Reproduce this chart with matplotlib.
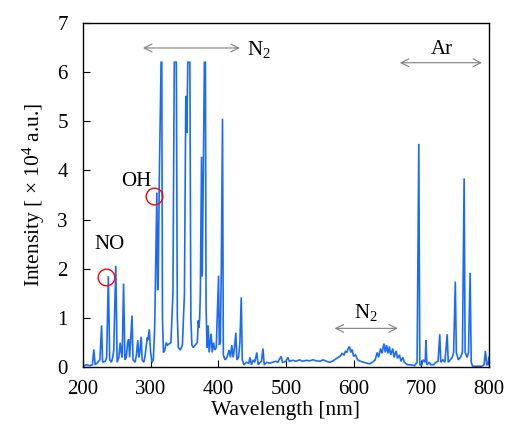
import matplotlib
matplotlib.use("Agg")
import matplotlib.pyplot as plt

plt.rcParams['font.family'] = ['Liberation Serif', 'DejaVu Serif']
plt.rcParams['mathtext.fontset'] = 'custom'
plt.rcParams['mathtext.rm'] = 'Liberation Serif'
plt.rcParams['mathtext.it'] = 'Liberation Serif:italic'

# Spectrum vertices: wavelength [nm], intensity [x10^4 a.u.]
wavelength = [
    200, 205, 210, 214, 216, 218, 222, 225, 227.5, 229, 233, 235, 237.5, 239.5,
    242, 244, 245.5, 248.5, 250.5, 253, 255, 256.5, 258, 260, 262, 264, 266,
    267.5, 269, 272.5, 274, 277, 279, 281, 282.5, 284, 286, 287.5, 290, 292,
    295, 296, 298, 300, 302, 304, 306, 308, 309.2, 310.3, 311, 313, 315.5,
    316.5, 317.5, 319, 321, 323, 325, 330, 333, 335, 338, 339.5, 341, 344,
    347, 350, 352, 352.8, 353.5, 355, 358, 359.5, 361, 363, 366, 369, 370.5,
    371.5, 372.5, 373.5, 375.3, 376.3, 378, 379.5, 381, 382, 383.5, 385,
    386.5, 388, 389.5, 391, 393, 395, 397, 399, 400.5, 401.5, 403, 404.5,
    406.3, 407.5, 410, 413, 416, 418, 420, 422, 424, 426, 427.5, 430, 432,
    434, 435.5, 438, 442, 445, 447, 449, 452, 454, 457, 459, 462, 464, 466,
    468, 472, 476, 480, 485, 488, 490, 493, 495, 500, 503, 505, 510, 515,
    520, 525, 530, 535, 540, 545, 550, 555, 560, 565, 570, 575, 580, 583,
    586, 588, 590, 592, 594, 596, 598, 600, 603, 606, 610, 615, 620, 624,
    628, 632, 635, 637, 640, 642, 645, 647, 649, 651, 653, 655, 658, 660,
    663, 665, 668, 670, 673, 675, 680, 685, 690, 694, 696.5, 698, 701, 703,
    706, 707, 708.5, 712, 714, 718, 722, 725, 727.5, 729, 732, 735, 738.5,
    740, 743, 746, 748, 750.5, 752, 755, 758, 761, 763.5, 765, 768, 770,
    772.4, 774, 776, 780, 785, 790, 793, 795, 797, 799, 800,
]
intensity = [
    0.02, 0.05, 0.03, 0.05, 0.36, 0.05, 0.10, 0.15, 0.85, 0.10, 0.12, 0.20, 1.85, 0.15,
    0.10, 0.20, 0.35, 2.06, 0.10, 0.20, 0.50, 0.30, 0.20, 1.70, 0.15, 0.20, 0.50,
    0.57, 0.20, 1.05, 0.15, 0.10, 0.25, 0.55, 0.20, 0.30, 0.62, 0.15, 0.10, 0.25,
    0.60, 0.55, 0.77, 0.30, 0.10, 0.15, 0.80, 2.50, 3.55, 1.58, 1.58, 4.00, 6.20,
    6.20, 1.00, 0.30, 0.35, 0.50, 0.45, 0.50, 1.50, 6.20, 6.20, 1.00, 0.40, 0.35,
    0.45, 1.50, 5.50, 5.50, 4.76, 6.20, 6.20, 1.00, 0.45, 0.40, 0.45, 0.50, 0.95,
    0.80, 1.00, 1.50, 4.28, 1.84, 4.00, 6.20, 6.20, 1.20, 0.40, 0.85,
    0.30, 0.50, 0.68, 0.30, 0.50, 0.35, 0.40, 1.20, 1.86, 0.45, 0.50, 2.00,
    5.05, 0.25, 0.15, 0.20, 0.35, 0.20, 0.45, 0.20, 0.40, 0.70, 0.15, 0.20, 0.50,
    1.42, 0.15, 0.05, 0.10, 0.08, 0.20, 0.05, 0.15, 0.10, 0.30, 0.05, 0.10, 0.12, 0.38,
    0.05, 0.10, 0.08, 0.10, 0.12, 0.10, 0.15, 0.22, 0.10, 0.12, 0.20, 0.12, 0.14, 0.12,
    0.15, 0.12, 0.14, 0.13, 0.15, 0.13, 0.12, 0.15, 0.12, 0.10, 0.13, 0.18, 0.22, 0.28,
    0.25, 0.32, 0.30, 0.38, 0.42, 0.30, 0.36, 0.22, 0.25, 0.15, 0.12, 0.10, 0.08, 0.07,
    0.10, 0.15, 0.30, 0.20, 0.38, 0.28, 0.48, 0.30, 0.45, 0.28, 0.42, 0.25, 0.38, 0.20,
    0.33, 0.18, 0.25, 0.12, 0.20, 0.10, 0.05, 0.05, 0.03, 0.10, 4.54, 0.05, 0.05, 0.15,
    0.10, 0.55, 0.05, 0.10, 0.05, 0.05, 0.10, 0.12, 0.67, 0.10, 0.15, 0.10, 0.67,
    0.10, 0.15, 0.20, 0.30, 1.74, 0.30, 0.15, 0.20, 0.30, 3.84, 0.30, 0.20, 0.30,
    1.92, 0.10, 0.02, 0.02, 0.02, 0.02, 0.05, 0.33, 0.05, 0.05, 0.20,
]

x_ticks = [200, 300, 400, 500, 600, 700, 800]
y_ticks = [0, 1, 2, 3, 4, 5, 6, 7]

# Marked species (circle position) and their labels
circle_x = [234, 305]
circle_y = [1.83, 3.48]
species = ["NO", "OH"]
species_x = [239, 279]
species_y = [2.49, 3.77]

fig = plt.figure(figsize=(5.06, 4.32), dpi=100)
ax = fig.add_axes([0.164, 0.150, 0.802, 0.797])

ax.plot(wavelength, intensity, color='#1a6cf7', lw=1.2, solid_joinstyle='miter')

ax.set_xlim(200, 800)
ax.set_ylim(0, 7)
ax.set_xticks(x_ticks)
ax.set_yticks(y_ticks)
ax.tick_params(direction='in', length=5, width=0.8, labelsize=15, top=False, right=False)
ax.tick_params(axis='y', pad=11)
ax.tick_params(axis='x', pad=9)
for s in ax.spines.values():
    s.set_linewidth(1.0)

ax.set_xlabel('Wavelength [nm]', fontsize=15.5, labelpad=2)
ax.set_ylabel(r'Intensity [ $\times$ 10$^4$ a.u.]', fontsize=15.5, labelpad=7)

# circles
ax.plot(circle_x, circle_y, 'o', ms=12, mfc='none', mec='red', mew=1.0)
for name, tx, ty in zip(species, species_x, species_y):
    ax.text(tx, ty, name, fontsize=15, ha='center', va='center')

arrow_kw = dict(arrowstyle='<->', color='#7f7f7f', lw=0.8, mutation_scale=14,
                shrinkA=0, shrinkB=0)
ax.annotate('', xy=(432, 6.49), xytext=(288.7, 6.49), arrowprops=arrow_kw)
ax.text(442, 6.45, r'N$_2$', fontsize=15, ha='left', va='center')
ax.annotate('', xy=(665.5, 0.79), xytext=(572, 0.79), arrowprops=arrow_kw)
ax.text(618, 1.12, r'N$_2$', fontsize=15, ha='center', va='center')
ax.annotate('', xy=(790, 6.19), xytext=(668.5, 6.19), arrowprops=arrow_kw)
ax.text(730.5, 6.45, 'Ar', fontsize=15, ha='center', va='center')

fig.savefig('out.png', dpi=100)
